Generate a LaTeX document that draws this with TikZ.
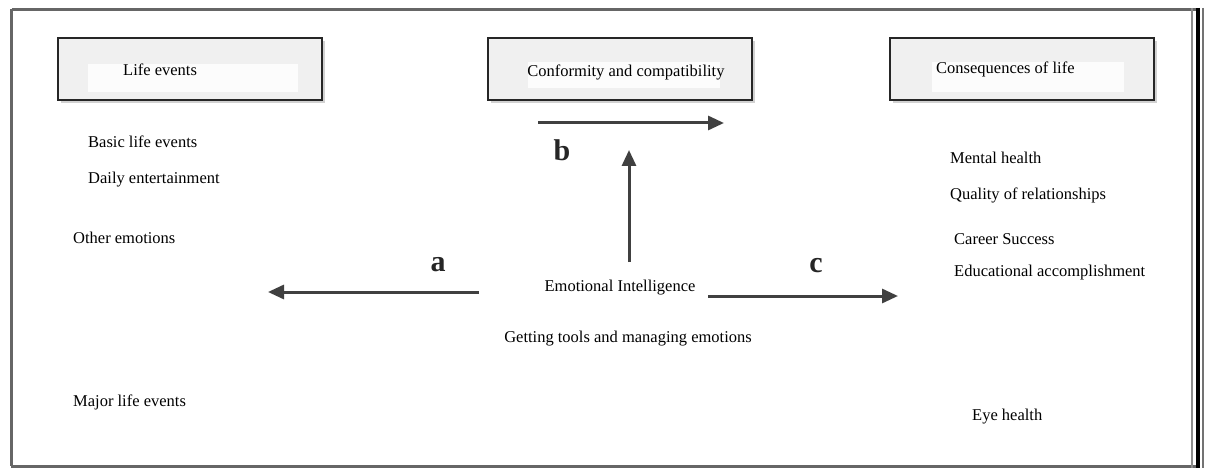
\documentclass[tikz,border=0pt]{standalone}
\usepackage{fontspec}
\setmainfont{Liberation Serif}
\usetikzlibrary{arrows.meta}
\begin{document}
\begin{tikzpicture}[x=1pt,y=-1pt,
  box/.style={draw=black!85,line width=2.4pt,fill=black!6},
  txt/.style={font=\fontsize{16.5}{18}\selectfont,inner sep=0pt,anchor=west,yshift=-2pt},
  ctxt/.style={font=\fontsize{16.5}{18}\selectfont,inner sep=0pt,yshift=-2pt},
  lbl/.style={font=\fontsize{30}{32}\selectfont\bfseries,inner sep=0pt,text=black!85},
  arr/.style={draw=black!75,line width=3pt,-{Triangle[length=16pt,width=14pt]}},
  frame/.style={draw=black!60,line width=3pt}]
\useasboundingbox (0,0) rectangle (1208,468);
\fill[white] (0,0) rectangle (1208,468);
% frame
\draw[frame] (11.5,10) -- (1196,10);
\draw[frame] (11.5,9) -- (11.5,466);
\draw[frame] (11,466) -- (1196,466);
\draw[draw=black!45,line width=2pt] (1192,8) -- (1192,468);
\draw[draw=black,line width=4pt] (1198,8) -- (1198,468);
\draw[draw=black!55,line width=2pt] (1203,8) -- (1203,468);
% boxes with shadows
\foreach \x in {58,488,890}{
  \fill[black!18] (\x+3,41) rectangle (\x+267,103);
}
\node[box,minimum width=264pt,minimum height=62pt,inner sep=0pt] (b1) at (190,69) {};
\node[box,minimum width=264pt,minimum height=62pt,inner sep=0pt] (b2) at (620,69) {};
\node[box,minimum width=264pt,minimum height=62pt,inner sep=0pt] (b3) at (1022,69) {};
\fill[black!1] (88,64) rectangle (298,92);
\fill[black!1] (528,62) rectangle (720,88);
\fill[black!1] (932,62) rectangle (1124,92);
\node[txt] (t1) at (123,68) {Life events};
\node[ctxt] (t2) at (626,70) {Conformity and compatibility};
\node[txt] (t3) at (936,67) {Consequences of life};
% left list
\node[txt] (l1) at (88,140) {Basic life events};
\node[txt] (l2) at (88,178) {Daily entertainment};
\node[txt] (l3) at (73,236) {Other emotions};
\node[txt] (l4) at (73,400) {Major life events};
% right list
\node[txt] (r1) at (950,156) {Mental health};
\node[txt] (r2) at (950,193) {Quality of relationships};
\node[txt] (r3) at (954,237) {Career Success};
\node[txt] (r4) at (954,271) {Educational accomplishment};
\node[txt] (r5) at (972,415) {Eye health};
% centre
\node[ctxt] (ei) at (620,286) {Emotional Intelligence};
\node[ctxt] (gt) at (628,337) {Getting tools and managing emotions};
% arrows
\coordinate (bs) at (538,123);
\coordinate (be) at (724,123);
\draw[arr] (bs) -- (be);
\node[lbl] (lb) at (562,150) {b};
\coordinate (vs) at (629,262);
\coordinate (ve) at (629,150);
\draw[arr] (vs) -- (ve);
\coordinate (as) at (479,292);
\coordinate (ae) at (268,292);
\draw[arr] (as) -- (ae);
\node[lbl] (la) at (438,265) {a};
\coordinate (cs) at (708,296);
\coordinate (ce) at (898,296);
\draw[arr] (cs) -- (ce);
\node[lbl] (lc) at (816,266) {c};
\end{tikzpicture}
\end{document}
